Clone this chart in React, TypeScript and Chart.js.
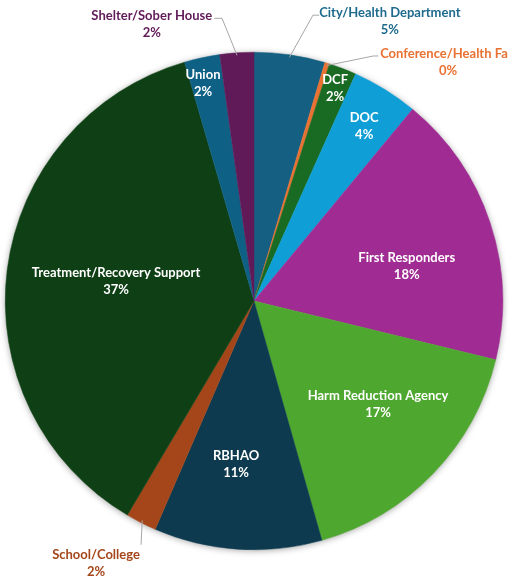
import React, { useEffect, useRef } from "react";
import { Chart, registerables } from "chart.js";

Chart.register(...registerables);

const categories = [
  "City/Health Department",
  "Conference/Health Fair",
  "DCF",
  "DOC",
  "First Responders",
  "Harm Reduction Agency",
  "RBHAO",
  "School/College",
  "Treatment/Recovery Support",
  "Union",
  "Shelter/Sober House",
];

const shares = [4.6, 0.3, 1.8, 4.3, 17.8, 16.8, 10.9, 2.0, 37.0, 2.3, 2.2];

const sliceColors = [
  "#156082",
  "#E97132",
  "#196B24",
  "#0F9ED5",
  "#A02B93",
  "#4EA72E",
  "#0D3A4E",
  "#A5461A",
  "#0F4015",
  "#0E6185",
  "#601A58",
];

// Label placement (style/layout, not data)
type InsideLbl = { kind: "inside"; rf: number; dAngle: number };
type OutsideLbl = {
  kind: "outside";
  color: string;
  text: [number, number]; // label block center relative to pie center, radius units
  path: [number, number][]; // leader polyline after edge point, radius units
};
const labelPlacement: (InsideLbl | OutsideLbl)[] = [
  { kind: "outside", color: "#1F6B8E", text: [0.546, -1.124], path: [[0.237, -1.149], [0.262, -1.149]] },
  { kind: "outside", color: "#E97132", text: [0.78, -0.961], path: [[0.48, -0.985], [0.5, -0.985]] },
  { kind: "inside", rf: 0.915, dAngle: 0 },
  { kind: "inside", rf: 0.83, dAngle: 0.4 },
  { kind: "inside", rf: 0.63, dAngle: 5.4 },
  { kind: "inside", rf: 0.65, dAngle: -4 },
  { kind: "inside", rf: 0.66, dAngle: 2.5 },
  { kind: "outside", color: "#A5461A", text: [-0.635, 1.054], path: [[-0.454, 0.98]] },
  { kind: "inside", rf: 0.56, dAngle: 0.8 },
  { kind: "inside", rf: 0.9, dAngle: -1.1 },
  { kind: "outside", color: "#601A58", text: [-0.411, -1.111], path: [[-0.1285, -1.1365], [-0.16, -1.1365]] },
];

const FONT = "bold 13px Lato, 'Open Sans', sans-serif";

const shadowPlugin = {
  id: "pieShadow",
  beforeDatasetsDraw(chart: any) {
    const meta = chart.getDatasetMeta(0);
    const arc = meta.data[0];
    if (!arc) return;
    const { x, y, outerRadius } = arc.getProps(["x", "y", "outerRadius"], true);
    const ctx = chart.ctx;
    ctx.save();
    ctx.shadowColor = "rgba(0,0,0,0.4)";
    ctx.shadowBlur = 7;
    ctx.shadowOffsetY = 1;
    ctx.fillStyle = "#ffffff";
    ctx.beginPath();
    ctx.arc(x, y, outerRadius - 0.5, 0, Math.PI * 2);
    ctx.fill();
    ctx.restore();
  },
};

const labelPlugin = {
  id: "pieLabels",
  afterDatasetsDraw(chart: any) {
    const ctx = chart.ctx;
    const meta = chart.getDatasetMeta(0);
    const data: number[] = chart.data.datasets[0].data;
    const total = data.reduce((a, b) => a + b, 0);
    ctx.save();
    ctx.font = FONT;
    ctx.textAlign = "center";
    ctx.textBaseline = "middle";
    meta.data.forEach((arc: any, i: number) => {
      const { x, y, startAngle, endAngle, outerRadius } = arc.getProps(
        ["x", "y", "startAngle", "endAngle", "outerRadius"],
        true
      );
      const r = outerRadius;
      const pct = Math.round((data[i] / total) * 100) + "%";
      const name = chart.data.labels[i];
      const mid = (startAngle + endAngle) / 2;
      const cfg = labelPlacement[i];
      if (cfg.kind === "inside") {
        const a = mid + (cfg.dAngle * Math.PI) / 180;
        const lx = x + Math.cos(a) * r * cfg.rf;
        const ly = y + Math.sin(a) * r * cfg.rf;
        ctx.fillStyle = "#ffffff";
        ctx.fillText(name, lx, ly - 8.5);
        ctx.fillText(pct, lx, ly + 8.5);
      } else {
        ctx.strokeStyle = "#A6A6A6";
        ctx.lineWidth = 1;
        ctx.beginPath();
        ctx.moveTo(x + Math.cos(mid) * r * 0.99, y + Math.sin(mid) * r * 0.99);
        cfg.path.forEach(([px, py]) => ctx.lineTo(x + px * r, y + py * r));
        ctx.stroke();
        const lx = x + cfg.text[0] * r;
        const ly = y + cfg.text[1] * r;
        ctx.fillStyle = cfg.color;
        ctx.fillText(name, lx, ly - 8.5);
        ctx.fillText(pct, lx, ly + 8.5);
      }
    });
    ctx.restore();
  },
};

export default function App() {
  const ref = useRef<HTMLCanvasElement | null>(null);
  useEffect(() => {
    if (!ref.current) return;
    const chart = new Chart(ref.current, {
      type: "pie",
      data: {
        labels: categories,
        datasets: [
          {
            data: shares,
            backgroundColor: sliceColors,
            borderColor: sliceColors,
            borderWidth: 0.5,
            hoverOffset: 0,
          },
        ],
      },
      options: {
        responsive: false,
        animation: false,
        devicePixelRatio: 1,
        layout: { padding: { left: 5, right: 5, top: 52, bottom: 32 } },
        plugins: {
          legend: { display: false },
          tooltip: { enabled: false },
        },
      },
      plugins: [shadowPlugin, labelPlugin],
    });
    return () => chart.destroy();
  }, []);
  return (
    <div style={{ position: "fixed", left: 0, top: 0, width: 508, height: 582, background: "#fff" }}>
      <canvas ref={ref} width={508} height={582} />
    </div>
  );
}
